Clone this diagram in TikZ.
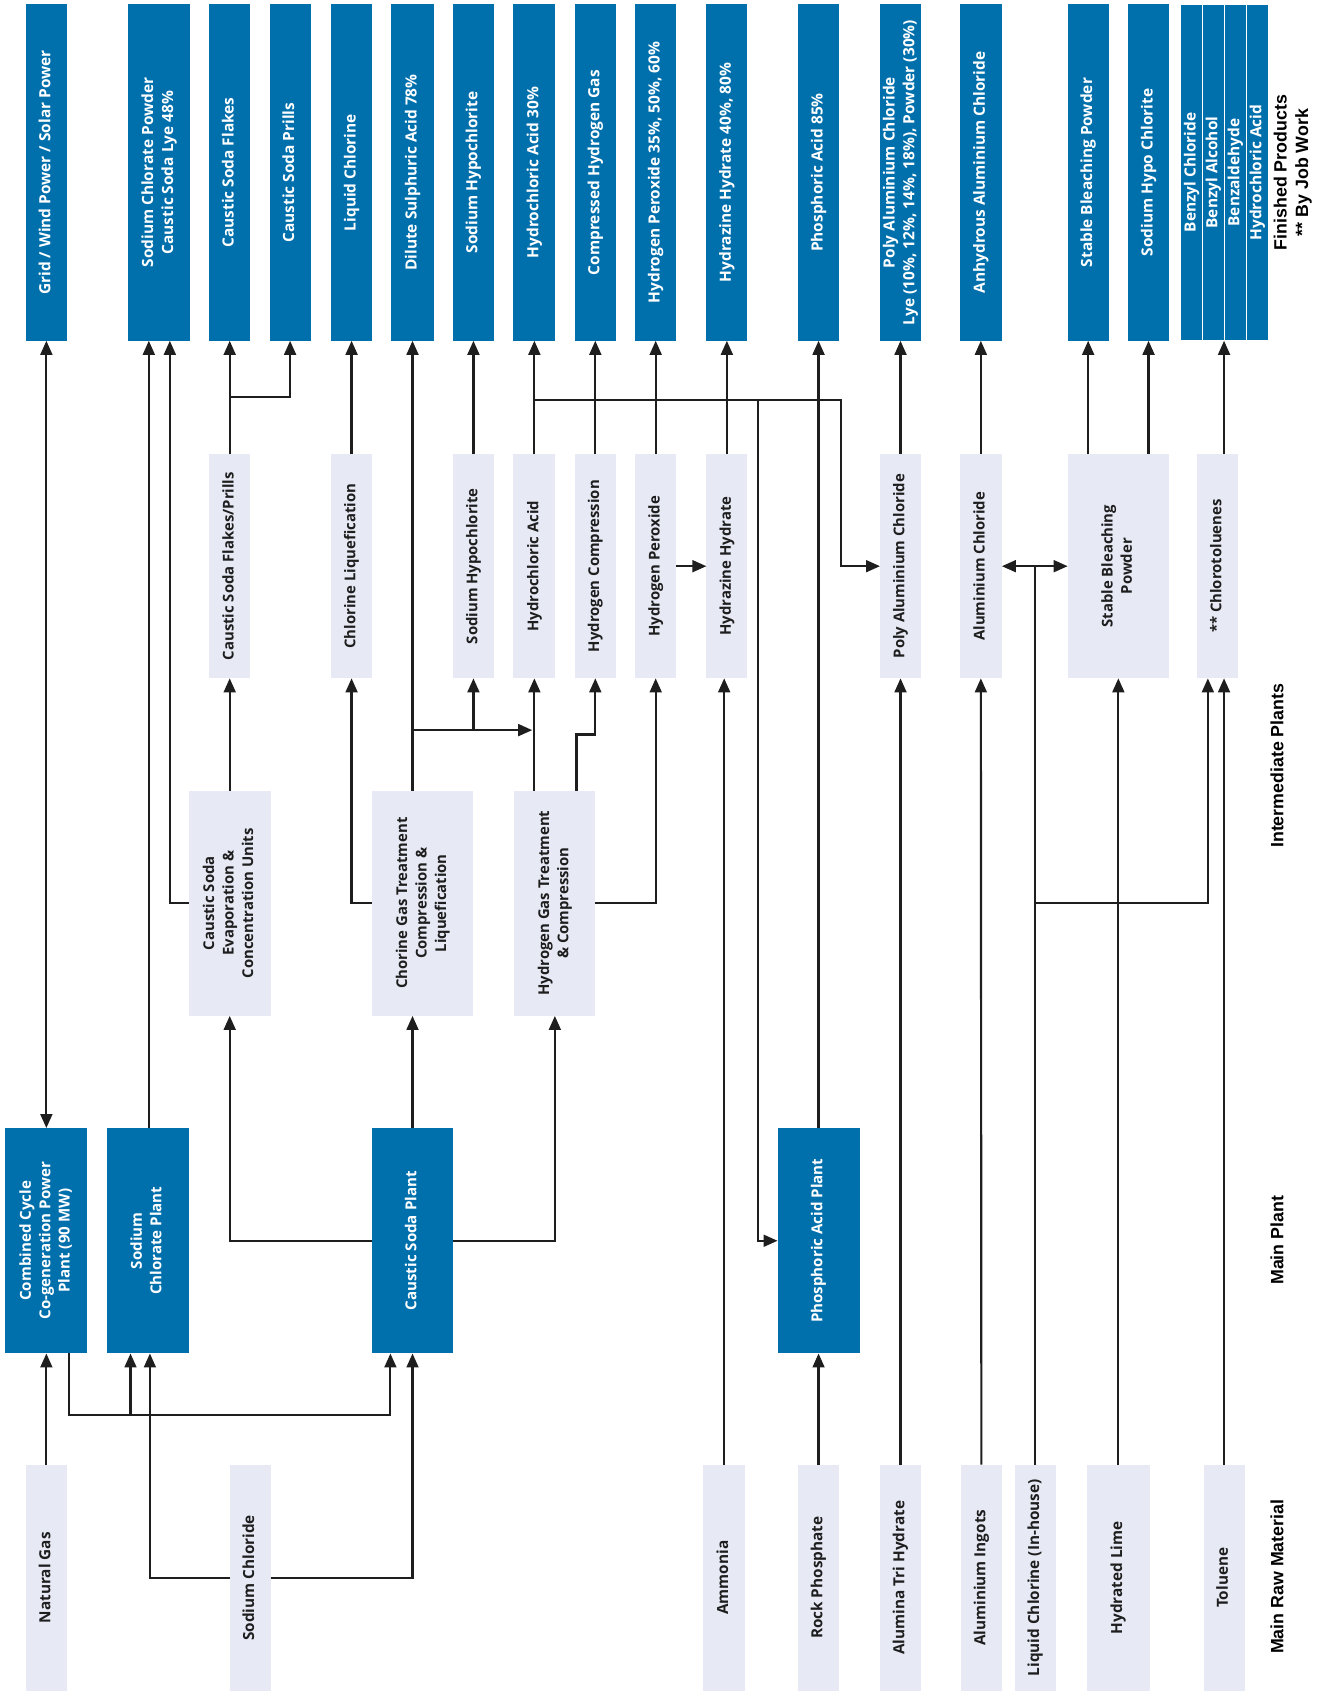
\documentclass[tikz,border=0pt]{standalone}
\usepackage{fontspec}
\setmainfont{Open Sans}
\newfontfamily\hdrfont{Liberation Sans}
\usetikzlibrary{arrows.meta,calc}
\definecolor{blueC}{RGB}{0,112,173}
\definecolor{lightC}{RGB}{231,234,245}
\definecolor{inkC}{RGB}{30,30,30}
\newcommand\bx[7]{\node[#2, minimum width={(#5-#3)*1pt}, minimum height={(#6-#4)*1pt}] (#1) at ({(#3+#5)/2},{(#4+#6)/2}) {\rotatebox{90}{\begin{tabular}{@{}c@{}}#7\end{tabular}}};}
\begin{document}
\begin{tikzpicture}[x=1pt,y=-1pt,
  box/.style={inner sep=0pt, outer sep=0pt, align=center},
  fin/.style={box, fill=blueC, text=white, font=\fontsize{14.3}{18.5}\selectfont\bfseries},
  job/.style={fin, draw=white, line width=0.8pt},
  mid/.style={box, fill=lightC, text=inkC, font=\fontsize{13.8}{18}\selectfont\bfseries},
  mainp/.style={box, fill=blueC, text=white, font=\fontsize{14}{18}\selectfont\bfseries},
  raw/.style={box, fill=lightC, text=inkC, font=\fontsize{14.2}{18}\selectfont\bfseries},
  hdr/.style={font=\hdrfont\fontsize{16.5}{20}\selectfont\bfseries, text=black, inner sep=0pt},
  ln/.style={draw=inkC, line width=2pt},
  ar/.style={ln, -{Triangle[length=13pt,width=11pt]}},
  ar2/.style={ln, {Triangle[length=13pt,width=11pt]}-{Triangle[length=13pt,width=11pt]}}]
\fill[white] (0,0) rectangle (1230,1568);
\useasboundingbox (0,0) rectangle (1230,1568);
% finished products
\bx{f1}{fin}{24}{4}{62}{316}{Grid / Wind Power / Solar Power}
\bx{f2}{fin}{119}{4}{176}{316}{Sodium Chlorate Powder\\Caustic Soda Lye 48\%}
\bx{f3}{fin}{194}{4}{232}{316}{Caustic Soda Flakes}
\bx{f4}{fin}{250}{4}{288}{316}{Caustic Soda Prills}
\bx{f5}{fin}{307}{4}{345}{316}{Liquid Chlorine}
\bx{f6}{fin}{363}{4}{402}{316}{Dilute Sulphuric Acid 78\%}
\bx{f7}{fin}{420}{4}{458}{316}{Sodium Hypochlorite}
\bx{f8}{fin}{476}{4}{515}{316}{Hydrochloric Acid 30\%}
\bx{f9}{fin}{533}{4}{571}{316}{Compressed Hydrogen Gas}
\bx{f10}{fin}{589}{4}{627}{316}{Hydrogen Peroxide 35\%, 50\%, 60\%}
\bx{f11}{fin}{655}{4}{693}{316}{Hydrazine Hydrate 40\%, 80\%}
\bx{f12}{fin}{740}{4}{778}{316}{Phosphoric Acid 85\%}
\bx{f13}{fin}{816}{4}{854}{316}{Poly Aluminium Chloride\\Lye (10\%, 12\%, 14\%, 18\%), Powder (30\%)}
\bx{f14}{fin}{890}{4}{929}{316}{Anhydrous Aluminium Chloride}
\bx{f15}{fin}{990}{4}{1028}{316}{Stable Bleaching Powder}
\bx{f16}{fin}{1046}{4}{1084}{316}{Sodium Hypo Chlorite}
\bx{f17}{job}{1095}{4}{1115}{316}{Benzyl Chloride}
\bx{f18}{job}{1115}{4}{1135}{316}{Benzyl Alcohol}
\bx{f19}{job}{1135}{4}{1156}{316}{Benzaldehyde}
\bx{f20}{job}{1156}{4}{1176}{316}{Hydrochloric Acid}
% intermediate plants
\bx{i1}{mid}{194}{421}{232}{629}{Caustic Soda Flakes/Prills}
\bx{i2}{mid}{307}{421}{345}{629}{Chlorine Liquefication}
\bx{i3}{mid}{420}{421}{458}{629}{Sodium Hypochlorite}
\bx{i4}{mid}{476}{421}{515}{629}{Hydrochloric Acid}
\bx{i5}{mid}{533}{421}{571}{629}{Hydrogen Compression}
\bx{i6}{mid}{589}{421}{627}{629}{Hydrogen Peroxide}
\bx{i7}{mid}{655}{421}{693}{629}{Hydrazine Hydrate}
\bx{i8}{mid}{816}{421}{854}{629}{Poly Aluminium Chloride}
\bx{i9}{mid}{890}{421}{929}{629}{Aluminium Chloride}
\bx{i10}{mid}{990}{421}{1084}{629}{Stable Bleaching\\Powder}
\bx{i11}{mid}{1110}{421}{1148}{629}{** Chlorotoluenes}
\bx{p1}{mid}{175}{733}{251}{942}{Caustic Soda\\Evaporation \&\\Concentration Units}
\bx{p2}{mid}{345}{733}{439}{942}{Chorine Gas Treatment\\Compression \&\\Liquefication}
\bx{p3}{mid}{477}{733}{552}{942}{Hydrogen Gas Treatment\\\& Compression}
% main plants
\bx{m1}{mainp}{5}{1046}{81}{1255}{Combined Cycle\\Co-generation Power\\Plant (90 MW)}
\bx{m2}{mainp}{99}{1046}{175}{1255}{Sodium\\Chlorate Plant}
\bx{m3}{mainp}{345}{1046}{420}{1255}{Caustic Soda Plant}
\bx{m4}{mainp}{721}{1046}{797}{1255}{Phosphoric Acid Plant}
% raw materials
\bx{r1}{raw}{24}{1358}{62}{1568}{Natural Gas}
\bx{r2}{raw}{213}{1358}{251}{1568}{Sodium Chloride}
\bx{r3}{raw}{652}{1358}{691}{1568}{Ammonia}
\bx{r4}{raw}{740}{1358}{778}{1568}{Rock Phosphate}
\bx{r5}{raw}{816}{1358}{854}{1568}{Alumina Tri Hydrate}
\bx{r6}{raw}{891}{1358}{929}{1568}{Aluminium Ingots}
\bx{r7}{raw}{941}{1358}{979}{1568}{Liquid Chlorine (In-house)}
\bx{r8}{raw}{1008}{1358}{1066}{1568}{Hydrated Lime}
\bx{r9}{raw}{1116}{1358}{1154}{1568}{Toluene}
% headers
\node[hdr, rotate=90] (hfin) at (1199,160) {\begin{tabular}{@{}c@{}}Finished Products\\{}** By Job Work\end{tabular}};
\node[hdr, rotate=90] (hint) at (1184,710) {Intermediate Plants};
\node[hdr, rotate=90] (hmain) at (1184,1150) {Main Plant};
\node[hdr, rotate=90] (hraw) at (1184,1462) {Main Raw Material};
% connectors: power plant
\draw[ar2] (f1.south) -- (m1.north);
\draw[ar] (r1.north) -- (m1.south);
\coordinate (ccout) at ([xshift=21pt]m1.south);
\coordinate (ccbus) at ([xshift=21pt,yshift=-57pt]m1.south);
\coordinate (m2a) at ([xshift=-16pt]m2.south);
\coordinate (m2b) at ([xshift=2pt]m2.south);
\coordinate (m3a) at ([xshift=-20.5pt]m3.south);
\draw[ar] (ccout) -- (ccbus) -| (m3a);
\draw[ar] (m2a |- ccbus) -- (m2a);
% sodium chloride
\draw[ar] (r2.west) -| (m2b);
\draw[ar] (r2.east) -| (m3.south);
% sodium chlorate
\coordinate (f2a) at ([xshift=-9.5pt]f2.south);
\coordinate (f2b) at ([xshift=10pt]f2.south);
\draw[ar] (f2a |- m2.north) -- (f2a);
\draw[ar] (p1.west) -| (f2b);
% caustic soda plant
\draw[ar] (m3.west) -| (p1.south);
\draw[ar] (m3.north) -- (m3.north |- p2.south);
\draw[ar] (m3.east) -| (p3.south);
\draw[ar] (p1.north) -- (i1.south);
\draw[ar] (i1.north) -- (f3.south);
\draw[ar] ($(i1.north)!0.5!(f3.south)$) -| (f4.south);
% chlorine
\draw[ar] (p2.west) -| (i2.south);
\draw[ar] (i2.north) -- (f5.south);
\draw[ar] (f6.south |- p2.north) -- (f6.south);
\coordinate (hyj) at ([yshift=-48pt]i3.south);
\coordinate (hcl) at ([xshift=-2pt]i4.south);
\draw[ar] (f6.south |- hyj) -- (hcl |- hyj);
\draw[ar] (hyj) -- (i3.south);
\draw[ar] (i3.north) -- (f7.south);
% hydrogen
\draw[ar] (i4.south |- p3.north) -- (i4.south);
\draw[ar] ([xshift=20pt]p3.north) |- ([yshift=-52pt]i5.south) -- (i5.south);
\draw[ar] (p3.east) -| (i6.south);
\draw[ar] (i4.north) -- (f8.south);
\draw[ar] (i5.north) -- (f9.south);
\draw[ar] (i6.north) -- (f10.south);
\draw[ar] (i6.east) -- (i7.west);
\draw[ar] (i7.north) -- (f11.south);
\draw[ar] (r3.north) -- (r3.north |- i7.south);
% hydrochloric acid bus
\coordinate (hbus) at ([yshift=-55pt]f8.south);
\draw[ar] (hbus) -| ([xshift=-36pt]i8.west) -- (i8.west);
\coordinate (phin) at ([xshift=-18pt]m4.west);
\draw[ar] (phin |- hbus) -- (phin) -- (m4.west);
% phosphoric / aluminium
\draw[ar] (r4.north) -- (m4.south);
\draw[ar] (m4.north) -- (f12.south);
\draw[ar] (r5.north) -- (i8.south);
\draw[ar] (i8.north) -- (f13.south);
\draw[ar] (r6.north) -- (i9.south);
\draw[ar] (i9.north) -- (f14.south);
% liquid chlorine in-house
\draw[ln] (r7.north) -- (r7.north |- i9.east);
\draw[ar2] (i9.east) -- (i10.west);
\coordinate (cti) at ([xshift=-9pt]i11.south);
\draw[ar] (r7.north |- p3.east) -| (cti);
\draw[ar] (r8.north) -- (i10.south);
\draw[ar] (r9.north) -- (r9.north |- i11.south);
\draw[ar] (f15.south |- i10.north) -- (f15.south);
\draw[ar] (f16.south |- i10.north) -- (f16.south);
\draw[ar] (f18.south east |- i11.north) -- (f18.south east);
\end{tikzpicture}
\end{document}
